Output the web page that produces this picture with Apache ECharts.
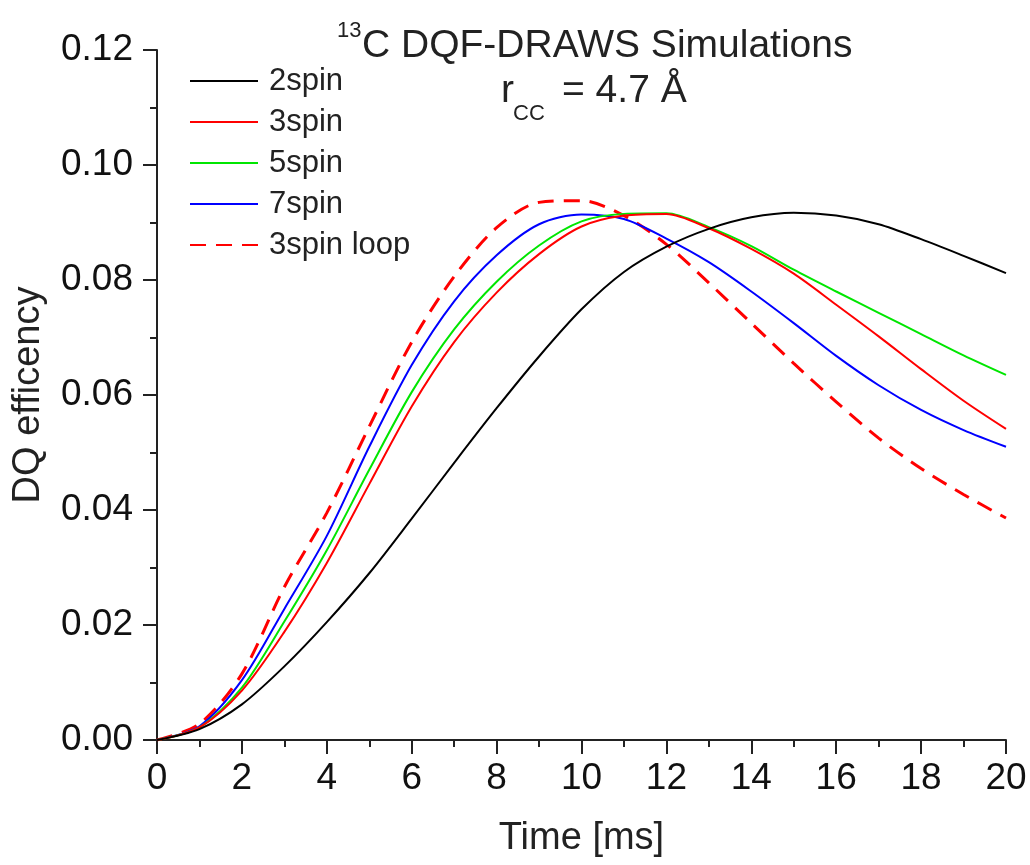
<!DOCTYPE html>
<html>
<head>
<meta charset="utf-8">
<script src="https://cdn.jsdelivr.net/npm/echarts@6/dist/echarts.min.js"></script>
<style>
html,body{margin:0;padding:0;background:#fff;}
#chart{width:1030px;height:865px;}
</style>
</head>
<body>
<div id="chart"></div>
<script>
// Time axis (ms)
const time = [0,1,2,3,4,5,6,7,8,9,10,11,12,13,14,15,16,17,18,19,20];
// DQ efficiency series
const spin2 = [0,0.0019,0.0062,0.0128,0.0205,0.0290,0.0385,0.0482,0.0577,0.0667,0.0749,0.0814,0.0858,0.0889,0.0909,0.0917,0.0912,0.0897,0.0871,0.0842,0.0812];
const spin3 = [0,0.0022,0.0086,0.0188,0.0308,0.0445,0.0580,0.0692,0.0778,0.0845,0.0893,0.0912,0.0915,0.0890,0.0854,0.0811,0.0757,0.0702,0.0645,0.0590,0.0541];
const spin5 = [0,0.0022,0.0091,0.0206,0.0330,0.0470,0.0605,0.0714,0.0797,0.0860,0.0902,0.0915,0.0916,0.0892,0.0859,0.0818,0.0780,0.0743,0.0706,0.0669,0.0635];
const spin7 = [0,0.0024,0.0104,0.0228,0.0355,0.0510,0.0652,0.0763,0.0843,0.0897,0.0914,0.0906,0.0872,0.0831,0.0780,0.0725,0.0668,0.0617,0.0574,0.0539,0.0510];
const spin3loop = [0,0.0028,0.0115,0.0266,0.0395,0.0545,0.0692,0.0806,0.0891,0.0935,0.0938,0.0912,0.0862,0.0795,0.0725,0.0655,0.0588,0.0525,0.0472,0.0427,0.0386];
const seriesNames = ['2spin','3spin','5spin','7spin','3spin loop'];
const seriesColors = ['#000000','#ff0000','#00e600','#0000ff','#ff0000'];
const yTickLabels = ['0.00','0.02','0.04','0.06','0.08','0.10','0.12'];
const xTickLabels = ['0','2','4','6','8','10','12','14','16','18','20'];

const FONT = '"Liberation Sans", Arial, sans-serif';
const chart = echarts.init(document.getElementById('chart'), null, {renderer:'canvas'});
const allData = [spin2, spin3, spin5, spin7, spin3loop];
const series = allData.map((arr, i) => ({
  name: seriesNames[i],
  type: 'line',
  data: time.map((t, j) => [t, arr[j]]),
  symbol: 'none',
  smooth: 0.3,
  lineStyle: {
    color: seriesColors[i],
    width: i === 4 ? 3 : 2,
    type: i === 4 ? [16, 10] : 'solid'
  },
  itemStyle: { color: seriesColors[i] },
  z: 5 - i
}));

const option = {
  backgroundColor: '#fff',
  animation: false,
  grid: { left: 157, right: 24, top: 50, bottom: 125, containLabel: false },
  legend: {
    orient: 'vertical',
    left: 184,
    top: 60,
    itemWidth: 68,
    itemHeight: 14,
    itemGap: 9,
    data: seriesNames,
    itemStyle: { opacity: 0 },
    textStyle: { fontFamily: FONT, fontSize: 31, color: '#222', lineHeight: 32, padding: [0, 0, 0, 6] }
  },
  xAxis: {
    type: 'value',
    min: 0, max: 20, interval: 2,
    name: 'Time [ms]',
    nameLocation: 'middle',
    nameGap: 80,
    nameTextStyle: { fontFamily: FONT, fontSize: 38, color: '#222' },
    axisLine: { show: true, onZero: false, lineStyle: { color: '#222', width: 2 } },
    axisTick: { show: true, inside: false, length: 14, lineStyle: { color: '#222', width: 2 } },
    minorTick: { show: true, splitNumber: 2, length: 7, lineStyle: { color: '#222', width: 2 } },
    splitLine: { show: false },
    axisLabel: {
      fontFamily: FONT, fontSize: 37, color: '#111', margin: 20,
      formatter: (v) => xTickLabels[Math.round(v / 2)] ?? ''
    }
  },
  yAxis: {
    type: 'value',
    min: 0, max: 0.12, interval: 0.02,
    name: 'DQ efficency',
    nameLocation: 'middle',
    nameGap: 109,
    nameRotate: 90,
    nameTextStyle: { fontFamily: FONT, fontSize: 38, color: '#222' },
    axisLine: { show: true, onZero: false, lineStyle: { color: '#222', width: 2 } },
    axisTick: { show: true, inside: false, length: 14, lineStyle: { color: '#222', width: 2 } },
    minorTick: { show: true, splitNumber: 2, length: 7, lineStyle: { color: '#222', width: 2 } },
    splitLine: { show: false },
    axisLabel: {
      fontFamily: FONT, fontSize: 37, color: '#111', margin: 24,
      formatter: (v) => yTickLabels[Math.round(v / 0.02)] ?? ''
    }
  },
  graphic: [
    { type: 'text', style: { x: 337, y: 31, text: '13', font: '22px ' + FONT, fill: '#222', verticalAlign: 'middle', align: 'left' } },
    { type: 'text', style: { x: 362, y: 46, text: 'C DQF-DRAWS Simulations', font: '39px ' + FONT, fill: '#222', verticalAlign: 'middle', align: 'left' } },
    { type: 'text', style: { x: 501, y: 91, text: 'r', font: '39px ' + FONT, fill: '#222', verticalAlign: 'middle', align: 'left' } },
    { type: 'text', style: { x: 513, y: 114, text: 'CC', font: '22px ' + FONT, fill: '#222', verticalAlign: 'middle', align: 'left' } },
    { type: 'text', style: { x: 562, y: 91, text: '= 4.7 Å', font: '39px ' + FONT, fill: '#222', verticalAlign: 'middle', align: 'left' } }
  ],
  series: series
};
chart.setOption(option);
</script>
</body>
</html>
